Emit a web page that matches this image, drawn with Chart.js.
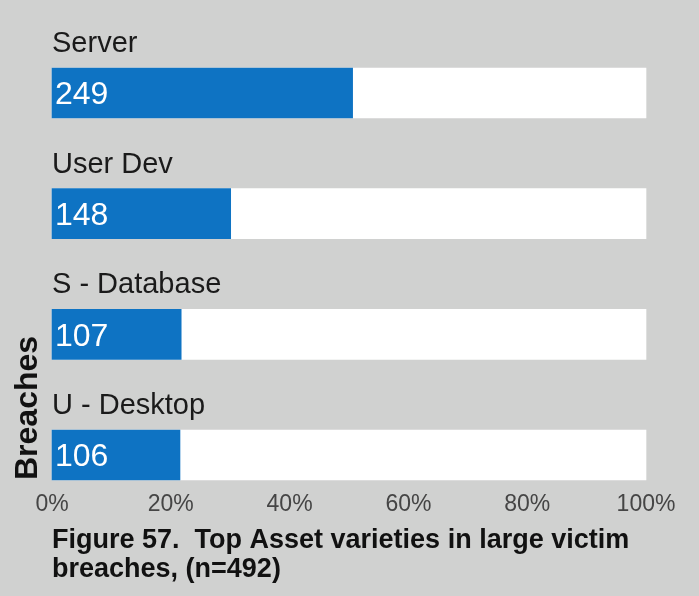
<!DOCTYPE html>
<html>
<head>
<meta charset="utf-8">
<script src="https://cdn.jsdelivr.net/npm/chart.js@4"></script>
<style>
  html, body { margin: 0; padding: 0; background: #d0d1d0; }
  canvas { display: block; }
</style>
</head>
<body>
<canvas id="c" width="699" height="596"></canvas>
<script>
const categories = ["Server", "User Dev", "S - Database", "U - Desktop"];
const counts = [249, 148, 107, 106];
const totalN = 492;
const trackValues = [100, 100, 100, 100];
const xTicks = [0, 20, 40, 60, 80, 100];
const titleLines = ["Figure 57.  Top Asset varieties in large victim", "breaches, (n=492)"];
const axisTitle = "Breaches";

const percents = counts.map(c => c / totalN * 100);
const FONT = "'Liberation Sans', Arial, Helvetica, sans-serif";

const labelPlugin = {
  id: 'labelPlugin',
  afterDatasetsDraw(chart) {
    const ctx = chart.ctx;
    const meta = chart.getDatasetMeta(0);
    ctx.save();
    meta.data.forEach((bar, i) => {
      const top = bar.y - bar.height / 2;
      ctx.fillStyle = '#1a1a1a';
      ctx.font = '29px ' + FONT;
      ctx.textAlign = 'left';
      ctx.textBaseline = 'alphabetic';
      ctx.fillText(categories[i], 52, top - 16);
      ctx.fillStyle = '#ffffff';
      ctx.font = '32px ' + FONT;
      ctx.textBaseline = 'middle';
      ctx.fillText(String(counts[i]), 55, bar.y + 2.5);
    });
    ctx.save();
    ctx.translate(37, 480);
    ctx.rotate(-Math.PI / 2);
    ctx.fillStyle = '#111111';
    ctx.font = 'bold 32px ' + FONT;
    ctx.textAlign = 'left';
    ctx.textBaseline = 'alphabetic';
    ctx.fillText(axisTitle, 0, 0);
    ctx.restore();
    ctx.fillStyle = '#111111';
    ctx.font = 'bold 27px ' + FONT;
    ctx.textAlign = 'left';
    ctx.textBaseline = 'alphabetic';
    ctx.fillText(titleLines[0], 52, 548);
    ctx.fillText(titleLines[1], 52, 577);
    ctx.restore();
  }
};

new Chart(document.getElementById('c'), {
  type: 'bar',
  data: {
    labels: categories,
    datasets: [
      {
        data: percents,
        backgroundColor: '#0e73c3',
        borderWidth: 0,
        grouped: false,
        barThickness: 50,
        clip: false
      },
      {
        data: trackValues,
        backgroundColor: '#ffffff',
        borderWidth: 0,
        grouped: false,
        barThickness: 50,
        clip: false
      }
    ]
  },
  options: {
    indexAxis: 'y',
    responsive: false,
    animation: false,
    layout: { padding: { left: 52, right: 53, top: 93, bottom: 61 } },
    plugins: { legend: { display: false }, tooltip: { enabled: false }, title: { display: false } },
    scales: {
      y: {
        type: 'category',
        offset: false,
        display: false,
        grid: { display: false }
      },
      x: {
        min: 0,
        max: 100,
        afterBuildTicks(scale) { scale.ticks = xTicks.map(v => ({ value: v })); },
        afterFit(scale) { scale.height = 80; scale.paddingLeft = 0; scale.paddingRight = 0; },
        grid: { display: false },
        border: { display: false },
        ticks: {
          padding: 28,
          color: '#454545',
          font: { family: FONT, size: 23 },
          callback: v => v + '%',
          maxRotation: 0,
          autoSkip: false
        }
      }
    }
  },
  plugins: [labelPlugin]
});
</script>
</body>
</html>
